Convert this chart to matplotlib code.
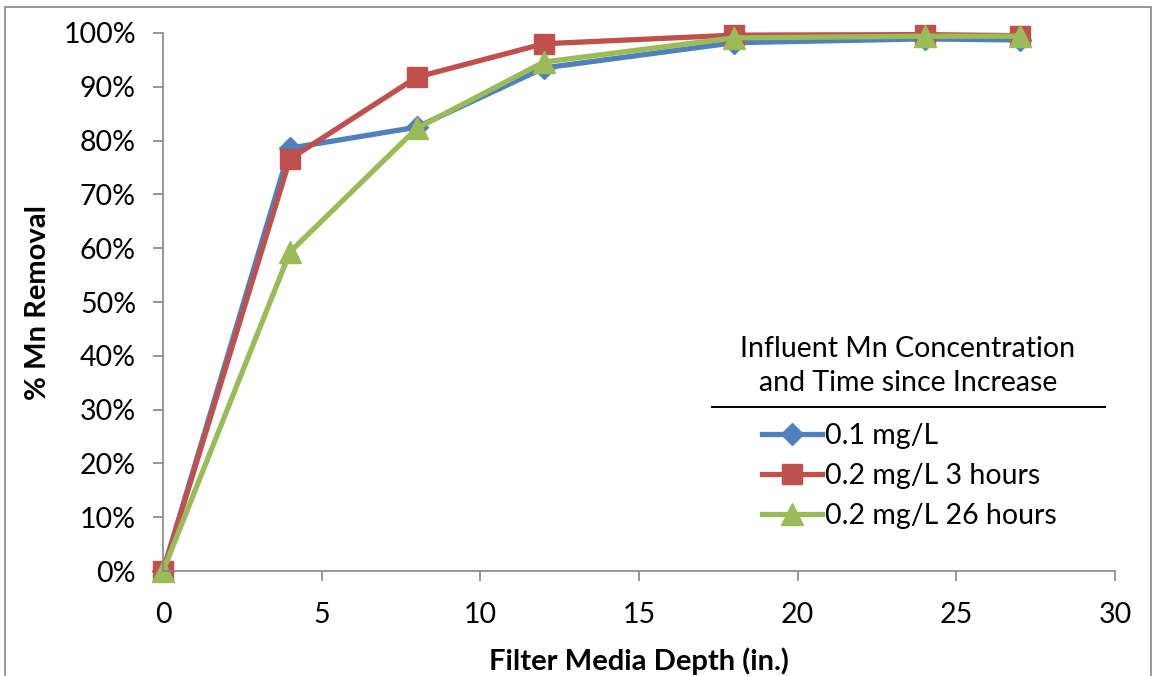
import matplotlib.pyplot as plt
from matplotlib.lines import Line2D
from matplotlib.patches import Rectangle
from matplotlib.ticker import PercentFormatter

# Data
depth = [0, 4, 8, 12, 18, 24, 27]
removal_01 = [0.0, 78.6, 82.5, 93.5, 98.2, 98.9, 98.7]
removal_02_3h = [0.0, 76.6, 91.8, 98.0, 99.6, 99.7, 99.5]
removal_02_26h = [0.0, 59.3, 82.3, 94.6, 99.1, 99.4, 99.4]

series_labels = ['0.1 mg/L', '0.2 mg/L 3 hours', '0.2 mg/L 26 hours']
series_colors = ['#4F81BD', '#C0504D', '#9BBB59']
series_markers = ['D', 's', '^']
series_msizes = [11, 14, 16]

legend_title = 'Influent Mn Concentration\nand Time since Increase'

plt.rcParams['font.family'] = ['Lato', 'DejaVu Sans']

fig = plt.figure(figsize=(11.54, 6.76), dpi=100)
ax = fig.add_axes([0.1413, 0.1553, 0.8249, 0.7959])

# outer chart border
fig.patches.append(Rectangle((0.0043, -0.01), 0.993, 0.9996, transform=fig.transFigure,
                             fill=False, edgecolor='#868686', linewidth=1.2))

for values, label, color, marker, ms in zip(
        [removal_01, removal_02_3h, removal_02_26h],
        series_labels, series_colors, series_markers, series_msizes):
    ax.plot(depth, values, color=color, linewidth=3.8, marker=marker,
            markersize=ms, label=label, clip_on=False)

ax.set_xlim(0, 30)
ax.set_ylim(0, 100)
ax.set_xticks(range(0, 31, 5))
ax.set_yticks(range(0, 101, 10))
ax.yaxis.set_major_formatter(PercentFormatter(decimals=0))

for side in ['top', 'right']:
    ax.spines[side].set_visible(False)
for side in ['left', 'bottom']:
    ax.spines[side].set_color('#868686')
    ax.spines[side].set_linewidth(1.2)
ax.tick_params(axis='both', colors='#868686', length=7.5, width=1.2,
               labelcolor='black', labelsize=20.5)
ax.tick_params(axis='x', pad=15)
ax.tick_params(axis='y', pad=12)

ax.set_xlabel('Filter Media Depth (in.)', fontsize=21, fontweight='bold', labelpad=14)
ax.set_ylabel('% Mn Removal', fontsize=21, fontweight='bold', labelpad=9)

# legend title, separator line and entries
fig.text(908 / 1154, 1 - 366 / 676, legend_title, ha='center', va='center',
         fontsize=20.5, linespacing=1.35)
fig.add_artist(Line2D([712 / 1154, 1105 / 1154], [1 - 407 / 676, 1 - 407 / 676],
                      color='black', linewidth=1.4))
leg = ax.legend(loc='center left', bbox_to_anchor=(762 / 1154, 1 - 476 / 676),
                bbox_transform=fig.transFigure, frameon=False,
                fontsize=20.5, handlelength=2.1, handletextpad=0.1,
                labelspacing=0.5, borderpad=0, borderaxespad=0)

fig.savefig('out.png', dpi=100)
